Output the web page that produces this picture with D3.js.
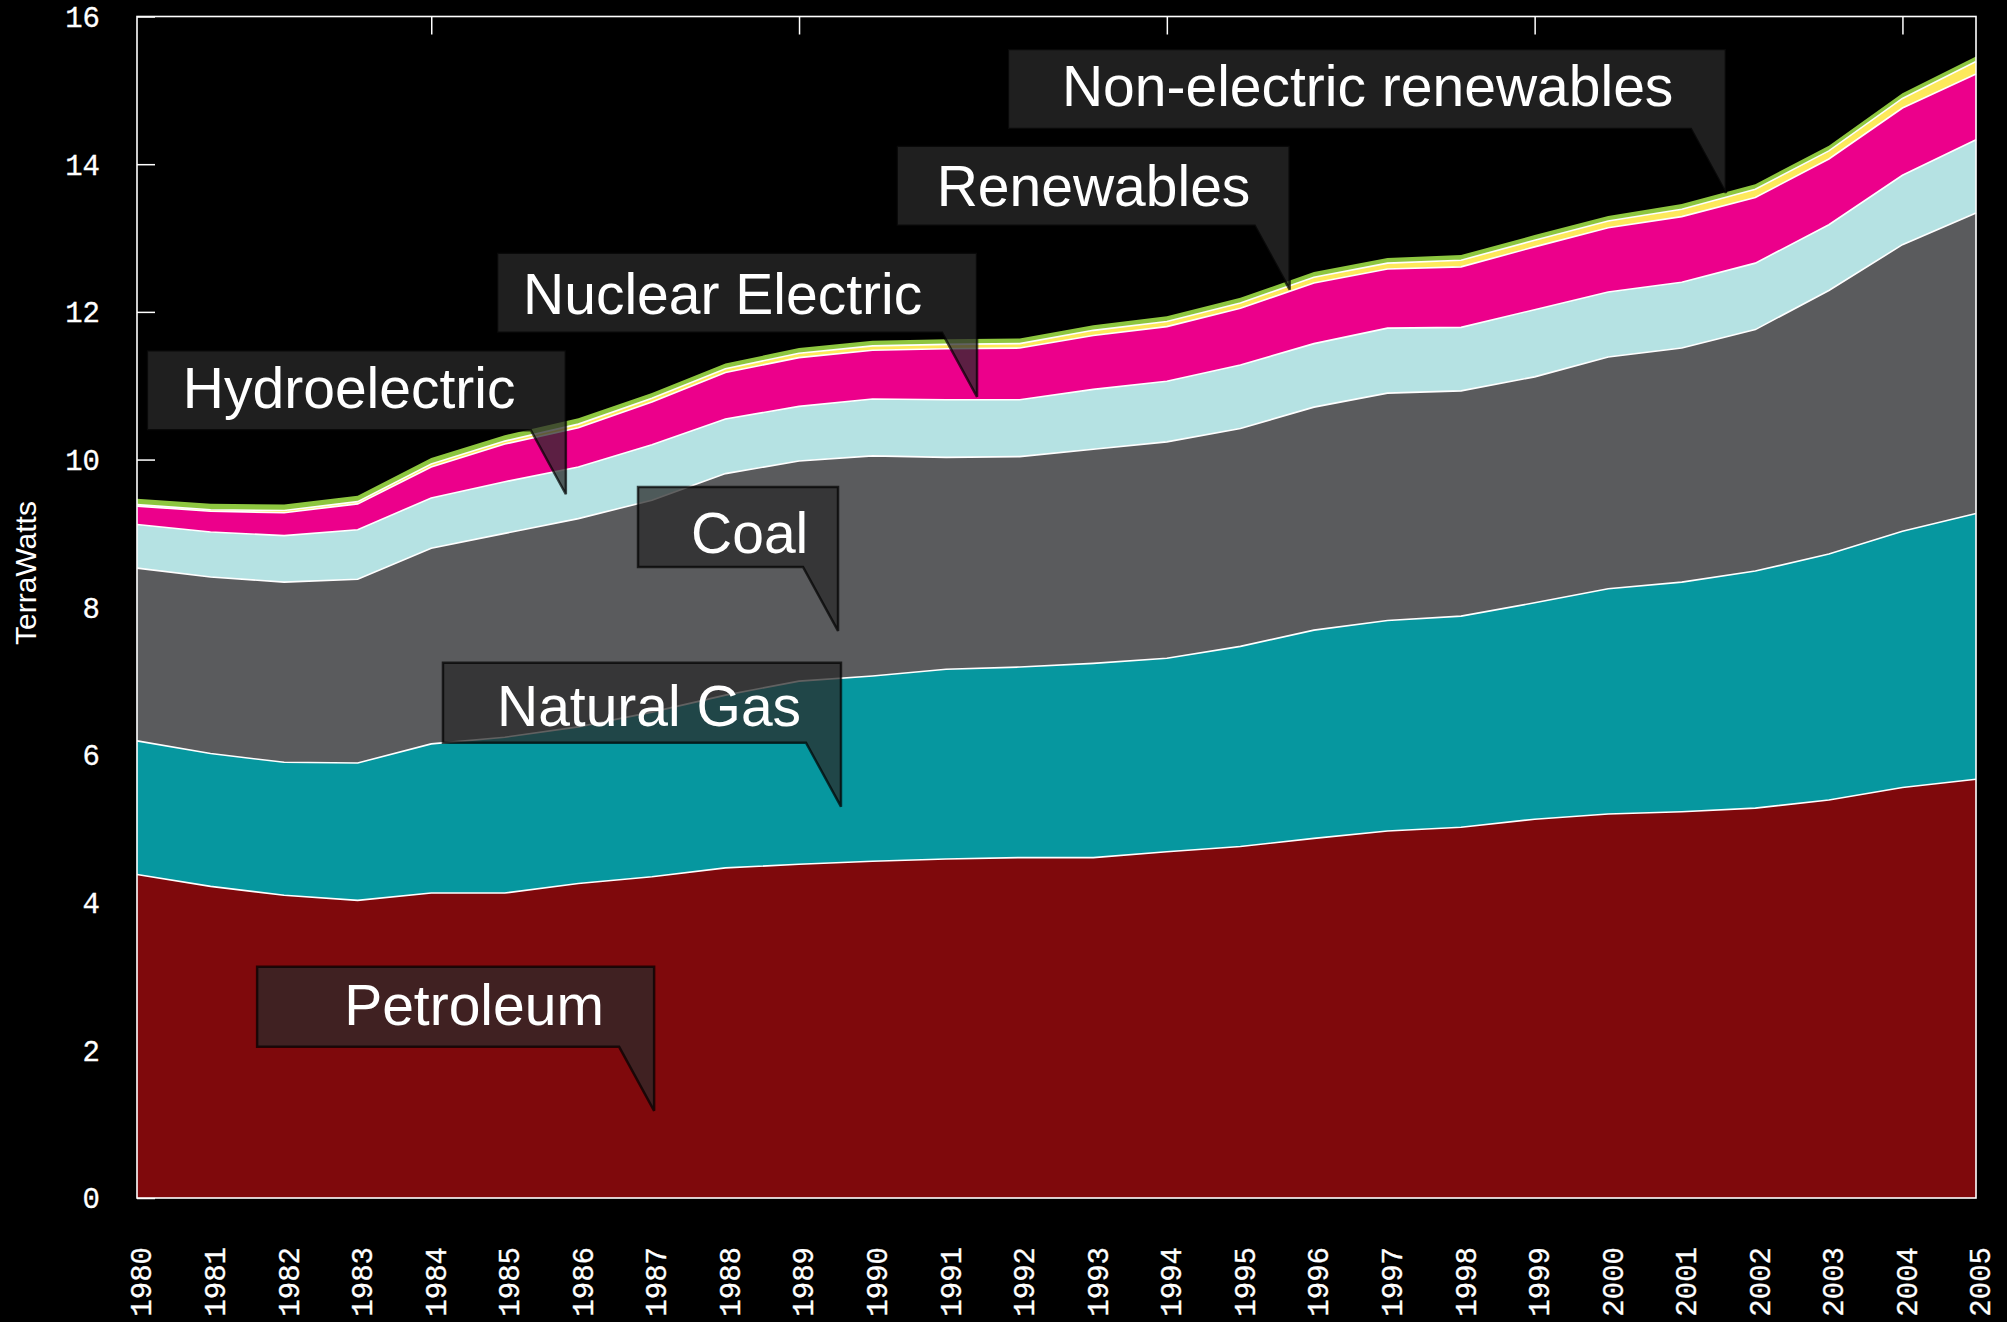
<!DOCTYPE html>
<html>
<head>
<meta charset="utf-8">
<script src="https://cdn.jsdelivr.net/npm/d3@7"></script>
<style>
  html, body { margin: 0; padding: 0; background: #000; }
  svg { display: block; }
</style>
</head>
<body>
<svg id="chart" width="2007" height="1322"></svg>
<script>
// ---------------- DATA ----------------
const years = [1980,1981,1982,1983,1984,1985,1986,1987,1988,1989,1990,1991,1992,
               1993,1994,1995,1996,1997,1998,1999,2000,2001,2002,2003,2004,2005];

const petroleum = [4.38,4.22,4.10,4.03,4.13,4.13,4.26,4.35,4.47,4.52,4.56,4.59,4.61,
                   4.61,4.69,4.76,4.87,4.97,5.02,5.13,5.20,5.23,5.28,5.39,5.56,5.67];
const naturalGas = [1.81,1.80,1.80,1.86,2.02,2.11,2.12,2.23,2.34,2.48,2.51,2.57,2.58,
                    2.63,2.62,2.71,2.82,2.85,2.86,2.93,3.05,3.11,3.21,3.33,3.47,3.60];
const coal = [2.34,2.39,2.44,2.49,2.65,2.76,2.82,2.87,3.00,2.98,2.98,2.87,2.85,
              2.90,2.93,2.95,3.02,3.08,3.05,3.06,3.14,3.17,3.27,3.57,3.88,4.07];
const hydroelectric = [0.59,0.61,0.63,0.67,0.68,0.70,0.70,0.75,0.74,0.74,0.77,0.78,0.77,
                       0.81,0.82,0.86,0.86,0.88,0.86,0.91,0.88,0.89,0.90,0.89,0.94,0.99];
const nuclearElectric = [0.25,0.28,0.31,0.35,0.42,0.51,0.53,0.58,0.63,0.66,0.66,0.69,0.70,
                         0.73,0.74,0.77,0.82,0.80,0.82,0.85,0.87,0.89,0.89,0.89,0.91,0.89];
const renewables = [0.02,0.02,0.03,0.03,0.04,0.04,0.05,0.05,0.05,0.06,0.06,0.06,0.06,
                    0.07,0.07,0.07,0.08,0.08,0.09,0.09,0.09,0.10,0.11,0.11,0.13,0.17];
const nonElectricRenewables = [0.08,0.08,0.08,0.08,0.08,0.08,0.08,0.07,0.07,0.07,0.07,0.07,0.07,
                               0.07,0.07,0.07,0.07,0.07,0.07,0.07,0.07,0.07,0.07,0.07,0.07,0.07];

const seriesKeys = ["Petroleum","Natural Gas","Coal","Hydroelectric","Nuclear Electric",
                    "Renewables","Non-electric renewables"];
const seriesValues = [petroleum, naturalGas, coal, hydroelectric, nuclearElectric,
                      renewables, nonElectricRenewables];
const seriesColors = ["#7f090c","#06979f","#5a5b5d","#b5e2e3","#ec008b","#fde95b","#8dc63f"];

const yTickValues = [0,2,4,6,8,10,12,14,16];
const topTickYears = [1984,1989,1994,1999,2004];
const yAxisTitle = "TerraWatts";

// annotation targets (tail tips) in data space
const annotationLabels = ["Non-electric renewables","Renewables","Nuclear Electric",
                          "Hydroelectric","Coal","Natural Gas","Petroleum"];
const annotationYears  = [2001.6, 1995.67, 1991.42, 1985.83, 1989.53, 1989.57, 1987.03];
const annotationValues = [13.61, 12.30, 10.85, 9.53, 7.68, 5.30, 1.18];
// annotation layout (pixels): box width, text inset, baseline offset
const annotationLayout = [
  {w: 718, tx: 54, ty: 57},
  {w: 393, tx: 40, ty: 60},
  {w: 480, tx: 26, ty: 61},
  {w: 419, tx: 36, ty: 58},
  {w: 200, tx: 53, ty: 66},
  {w: 398, tx: 54, ty: 63},
  {w: 397, tx: 87, ty: 58}
];

// ---------------- LAYOUT ----------------
const W = 2007, H = 1322;
const margin = {left: 137, right: 31, top: 16.5, bottom: 124};
const plotL = margin.left, plotR = W - margin.right;
const plotT = margin.top, plotB = H - margin.bottom;

const svg = d3.select("#chart");
svg.append("rect").attr("width", W).attr("height", H).attr("fill", "#000");

const x = d3.scaleLinear().domain([1980, 2005]).range([plotL, plotR]);
const y = d3.scaleLinear().domain([0, 16]).range([plotB, plotT]);

const tickFont = "'Liberation Mono', 'DejaVu Sans Mono', monospace";
const labelFont = "'Liberation Sans', Arial, sans-serif";

// Left axis (ticks drawn inside, underneath areas)
const yAxis = d3.axisRight(y).tickValues(yTickValues).tickSize(18).tickFormat("");
const gy = svg.append("g").attr("transform", `translate(${plotL},0)`).call(yAxis);
gy.select(".domain").remove();
gy.selectAll(".tick line").attr("stroke", "#fff").attr("stroke-width", 1.5);

// y tick labels
svg.append("g").selectAll("text").data(yTickValues).join("text")
  .attr("x", 100).attr("y", d => y(d)).attr("dy", "0.36em")
  .attr("text-anchor", "end")
  .attr("font-family", tickFont).attr("font-size", 29)
  .attr("fill", "#fff").attr("stroke", "#fff").attr("stroke-width", 0.3)
  .text(d => d);

// ---------------- STACK ----------------
const table = years.map((yr, i) => {
  const row = {year: yr};
  seriesKeys.forEach((k, j) => row[k] = seriesValues[j][i]);
  return row;
});
const stacked = d3.stack().keys(seriesKeys)(table);

const area = d3.area()
  .x(d => x(d.data.year))
  .y0(d => y(d[0]))
  .y1(d => y(d[1]));

svg.append("g").selectAll("path").data(stacked).join("path")
  .attr("d", area)
  .attr("fill", (d, i) => seriesColors[i]);

const line = d3.line().x(d => x(d.data.year)).y(d => y(d[1]));
svg.append("g").selectAll("path").data(stacked.slice(0, stacked.length - 1)).join("path")
  .attr("d", line)
  .attr("fill", "none")
  .attr("stroke", "#fff")
  .attr("stroke-width", 1.6);

// frame
svg.append("rect")
  .attr("x", plotL).attr("y", plotT)
  .attr("width", plotR - plotL).attr("height", plotB - plotT)
  .attr("fill", "none").attr("stroke", "#fff").attr("stroke-width", 1.6);

// top ticks (inside)
const topAxis = d3.axisBottom(x).tickValues(topTickYears).tickSize(18).tickFormat("");
const gt = svg.append("g").attr("transform", `translate(0,${plotT})`).call(topAxis);
gt.select(".domain").remove();
gt.selectAll(".tick line").attr("stroke", "#fff").attr("stroke-width", 1.5);

// x labels (rotated)
svg.append("g").selectAll("text").data(years).join("text")
  .attr("transform", d => `translate(${x(d) + 4},1247) rotate(-90)`)
  .attr("dy", "0.36em")
  .attr("text-anchor", "end")
  .attr("font-family", tickFont).attr("font-size", 29)
  .attr("fill", "#fff").attr("stroke", "#fff").attr("stroke-width", 0.3)
  .text(d => d);

// y axis title
svg.append("text")
  .attr("transform", `translate(36,573) rotate(-90)`)
  .attr("text-anchor", "middle")
  .attr("font-family", labelFont).attr("font-size", 30)
  .attr("fill", "#fff").text(yAxisTitle);

// ---------------- ANNOTATIONS ----------------
const boxH = 80, tailH = 64, tailW = 35;
const ann = svg.append("g");
annotationLabels.forEach((label, i) => {
  const lay = annotationLayout[i];
  const tipX = x(annotationYears[i]);
  const tipY = y(annotationValues[i]);
  const R = tipX, B = tipY - tailH, T = B - boxH, L = R - lay.w;
  const pts = [[L, T], [R, T], [R, tipY], [R - tailW, B], [L, B]];
  ann.append("path")
    .attr("d", "M" + pts.map(p => p.join(",")).join("L") + "Z")
    .attr("fill", "#2a2a2a").attr("fill-opacity", 0.74)
    .attr("stroke", "#000").attr("stroke-opacity", 0.7)
    .attr("stroke-width", 2.5).attr("stroke-linejoin", "miter");
  ann.append("text")
    .attr("x", L + lay.tx).attr("y", T + lay.ty)
    .attr("font-family", labelFont).attr("font-size", 57)
    .attr("fill", "#fff").text(label);
});
</script>
</body>
</html>
